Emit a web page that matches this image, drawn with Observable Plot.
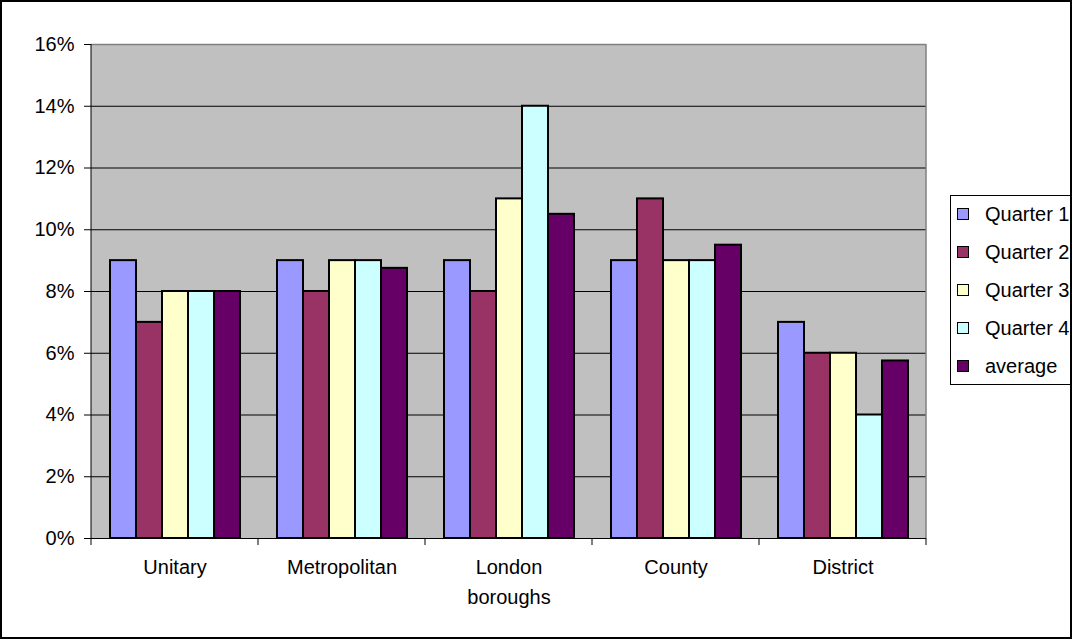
<!DOCTYPE html>
<html><head><meta charset="utf-8">
<script src="https://cdn.jsdelivr.net/npm/d3@7"></script>
<script src="https://cdn.jsdelivr.net/npm/@observablehq/plot@0.6"></script>
<style>
body{margin:0;background:#fff;font-family:"Liberation Sans",Arial,sans-serif;}
#wrap{position:relative;width:1072px;height:639px;overflow:hidden;}
#border{position:absolute;left:0;top:0;width:1072px;height:639px;box-sizing:border-box;border:2px solid #000;pointer-events:none;}
#legend{position:absolute;left:950px;top:195px;width:140px;height:190px;border:1px solid #000;box-sizing:border-box;background:#fff;}
.item{position:absolute;left:0;height:24px;display:flex;align-items:center;font-size:20px;color:#000;white-space:nowrap;}
.sw{width:10px;height:10px;border:1px solid #000;margin-left:6px;margin-right:16px;}
</style></head>
<body><div id="wrap"><div id="chart"></div><div id="legend"></div><div id="border"></div></div>
<script>
const categories = ["Unitary", "Metropolitan", "London\nboroughs", "County", "District"];
const series = ["Quarter 1", "Quarter 2", "Quarter 3", "Quarter 4", "average"];
const colors = ["#9999FF", "#993366", "#FFFFCC", "#CCFFFF", "#660066"];
const q1 = [0.09, 0.09, 0.09, 0.09, 0.07];
const q2 = [0.07, 0.08, 0.08, 0.11, 0.06];
const q3 = [0.08, 0.09, 0.11, 0.09, 0.06];
const q4 = [0.08, 0.09, 0.14, 0.09, 0.04];
const avg = [0.08, 0.0875, 0.105, 0.095, 0.0575];
const yTicks = [0, 0.02, 0.04, 0.06, 0.08, 0.10, 0.12, 0.14, 0.16];

const seriesValues = [q1, q2, q3, q4, avg];
const data = [];
categories.forEach((c, i) => series.forEach((s, j) => data.push({cat: c, series: s, value: seriesValues[j][i]})));

const plot = Plot.plot({
  width: 1072, height: 639,
  marginLeft: 90, marginRight: 145, marginTop: 44, marginBottom: 101,
  style: {fontFamily: "'Liberation Sans', Arial, sans-serif", fontSize: "20px", background: "white", color: "#000", overflow: "visible"},
  fx: {domain: categories, padding: 0, label: null},
  x: {domain: series, paddingInner: 0, paddingOuter: 0.7, axis: null},
  y: {domain: [0, 0.16], label: null},
  color: {domain: series, range: colors},
  marks: [
    Plot.gridY(yTicks.filter(d => d > 0 && d < 0.16), {stroke: "#000", strokeOpacity: 1, strokeWidth: 1}),
    Plot.ruleY([0.16], {stroke: "#808080", strokeWidth: 1.5}),
    Plot.barY(data, {fx: "cat", x: "series", y: "value", fill: "series", stroke: "#000", strokeWidth: 2}),
    Plot.ruleY([0], {stroke: "#000", strokeWidth: 1}),
    Plot.axisY({ticks: yTicks, tickFormat: d3.format(".0%"), tickSize: 7, tickPadding: 10, fontSize: 20, label: null}),
    Plot.axisFx({anchor: "bottom", tickSize: 0, tickPadding: 14, fontSize: 20, label: null, lineHeight: 1.5})
  ]
});
document.getElementById("chart").appendChild(plot);

// plot-area background, boundary ticks, left axis line, right border using library scales
const fx = plot.scale("fx"), y = plot.scale("y");
const y0 = y.apply(0), y1 = y.apply(0.16);
const bw = fx.bandwidth;
const bounds = categories.map(c => fx.apply(c));
bounds.push(fx.apply(categories[categories.length - 1]) + bw);
const svg = d3.select(plot);
svg.insert("rect", ":first-child")
  .attr("x", bounds[0]).attr("y", y1)
  .attr("width", bounds[bounds.length-1] - bounds[0]).attr("height", y0 - y1)
  .attr("fill", "#C0C0C0");
const g = svg.append("g");
bounds.forEach(b => g.append("line").attr("x1", b).attr("x2", b).attr("y1", y0).attr("y2", y0 + 7).attr("stroke", "#000"));
g.append("line").attr("x1", bounds[0]).attr("x2", bounds[0]).attr("y1", y1).attr("y2", y0).attr("stroke", "#000");
g.append("line").attr("x1", bounds[bounds.length-1]).attr("x2", bounds[bounds.length-1]).attr("y1", y1).attr("y2", y0).attr("stroke", "#808080").attr("stroke-width", 1.5);

const legend = document.getElementById("legend");
series.forEach((s, i) => {
  const it = document.createElement("div");
  it.className = "item";
  it.style.top = (6 + i * 38) + "px";
  const sw = document.createElement("div");
  sw.className = "sw"; sw.style.background = colors[i];
  it.appendChild(sw);
  it.appendChild(document.createTextNode(s));
  legend.appendChild(it);
});
</script></body></html>
